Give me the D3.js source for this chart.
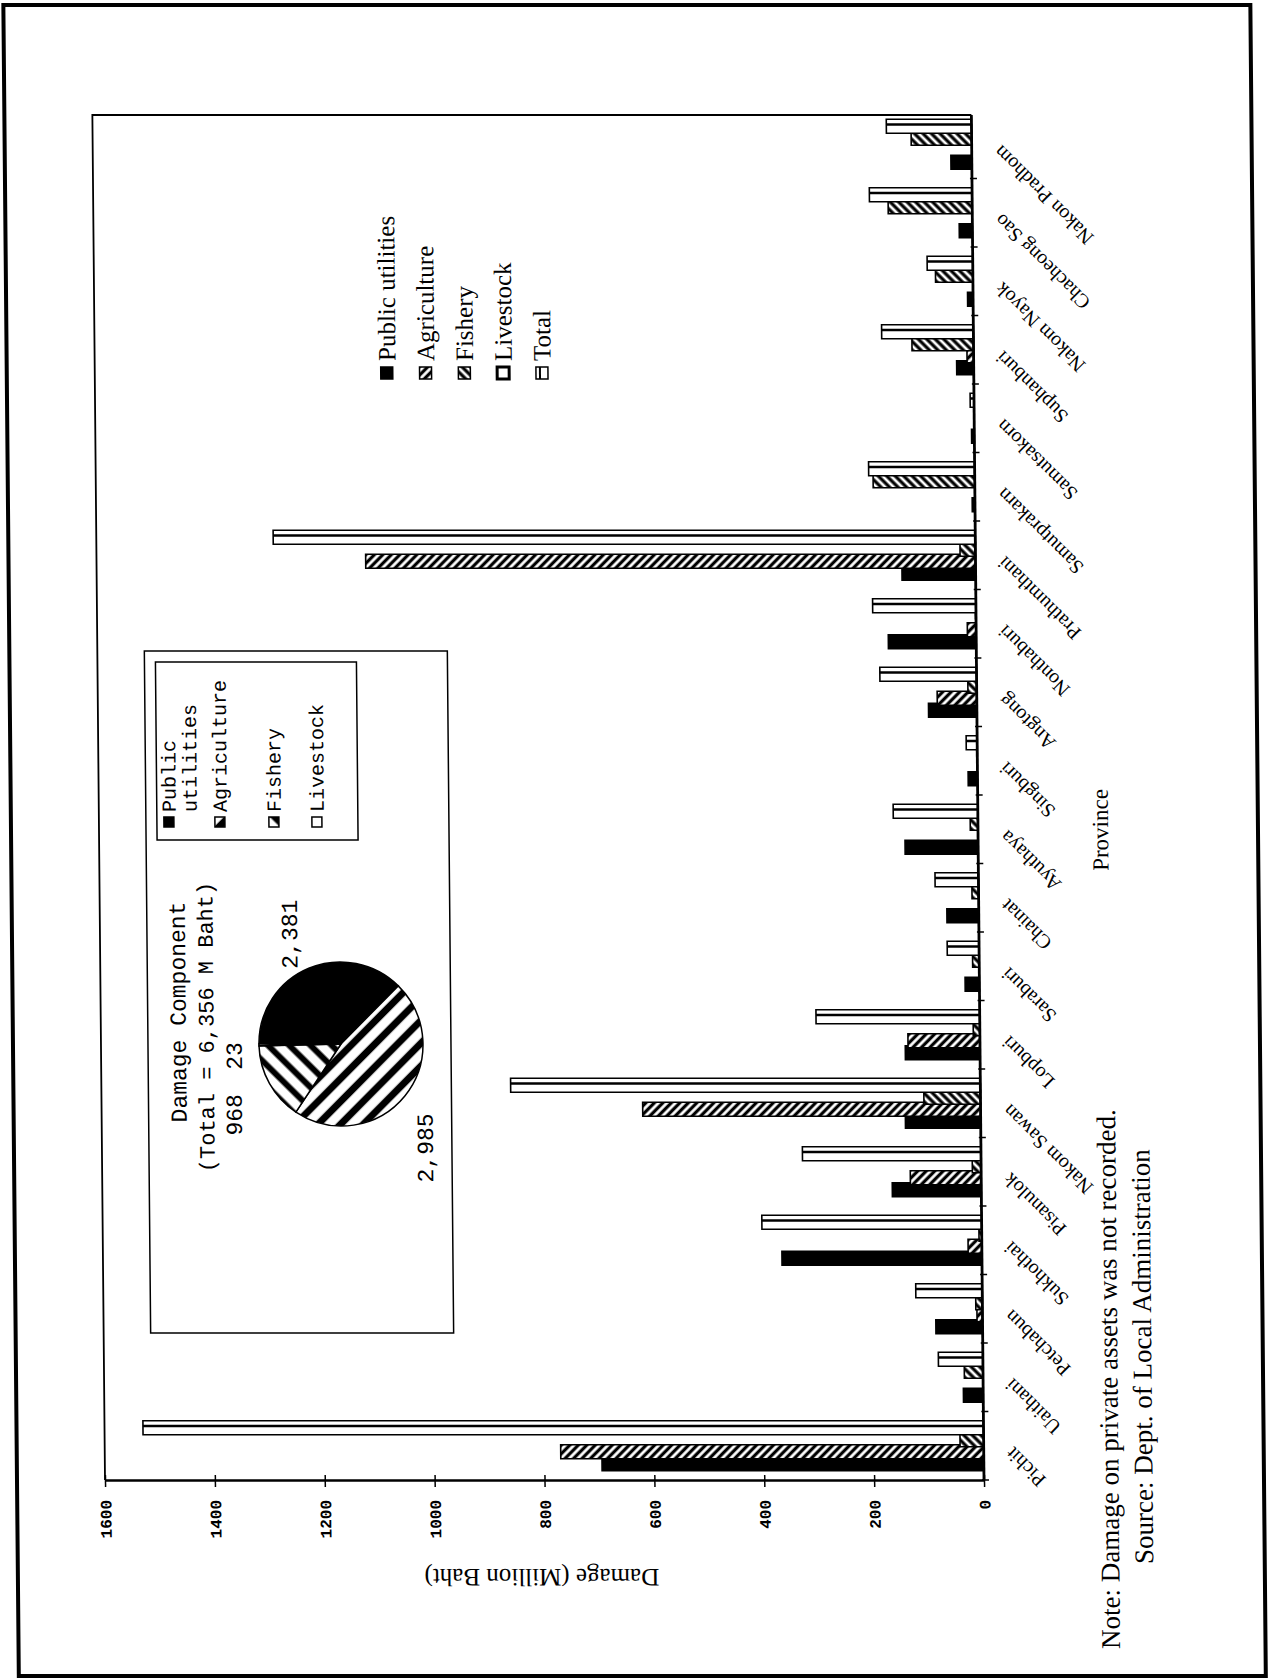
<!DOCTYPE html>
<html>
<head>
<meta charset="utf-8">
<title>Flood damage by province</title>
<script src="https://cdn.jsdelivr.net/npm/d3@7"></script>
<style>
  body { margin: 0; background: #fff; }
  svg { display: block; }
</style>
</head>
<body>
<div id="chart"></div>
<script>
// provinces in page order, top to bottom (the printed chart is turned on its side)
var provinces = ["Nakon Pradhom", "Chacheong Sao", "Nakom Nayok", "Suphanburi", "Samutsakorn",
  "Samutprakarn", "Prathumthani", "Nonthaburi", "Angtong", "Singburi", "Ayuthaya", "Chainat",
  "Saraburi", "Lopburi", "Nakom Sawan", "Pisanulok", "Sukhothai", "Petchabun", "Uaithani", "Pichit"];

// damage, million baht
var publicUtilities = [38, 24, 10, 31, 5, 5, 134, 160, 88, 17, 133, 58, 26, 136, 137, 162, 364, 85, 36, 695];
var agriculture     = [0, 0, 0, 12, 0, 0, 1110, 16, 72, 0, 0, 0, 0, 131, 615, 129, 25, 10, 0, 770];
var fishery         = [110, 153, 68, 112, 0, 185, 28, 0, 16, 0, 14, 12, 12, 12, 103, 16, 5, 12, 34, 43];
var livestock       = [1, 1, 1, 1, 0, 1, 2, 1, 1, 1, 2, 1, 1, 2, 3, 2, 1, 1, 1, 3];
var total           = [155, 187, 83, 167, 7, 193, 1278, 188, 176, 20, 154, 79, 58, 298, 855, 325, 400, 121, 81, 1530];

var valueTicks = [0, 200, 400, 600, 800, 1000, 1200, 1400, 1600];
var legendLabels = ["Public utilities", "Agriculture", "Fishery", "Livestock", "Total"];

// inset pie
var pieLabels = ["Public utilities", "Agriculture", "Fishery", "Livestock"];
var pieValues = [2381, 2985, 968, 23];

var W = 1268, H = 1679;
var serif = "'Liberation Serif','Times New Roman',serif";
var mono = "'Liberation Mono','Courier New',monospace";

var svg = d3.select("#chart").append("svg").attr("width", W).attr("height", H);
var defs = svg.append("defs");

function hatch(id, size, angle, sw) {
  var p = defs.append("pattern").attr("id", id)
    .attr("patternUnits", "userSpaceOnUse")
    .attr("width", size).attr("height", size)
    .attr("patternTransform", "rotate(" + angle + ")");
  p.append("rect").attr("width", size).attr("height", size).attr("fill", "#fff");
  p.append("line").attr("x1", size / 2).attr("x2", size / 2).attr("y1", 0).attr("y2", size)
    .attr("stroke", "#000").attr("stroke-width", sw);
}
hatch("agriBar", 6, 45, 3.2);
hatch("fishBar", 6, -45, 3.2);
hatch("agriPie", 16, 45, 7);
hatch("fishPie", 15, -45, 6);

// the scan is slightly sheared, so everything sits in one skewed group
var page = svg.append("g").attr("transform", "translate(0,1480) skewX(0.53) translate(0,-1480)");

page.append("rect").attr("x", 17).attr("y", 5).attr("width", 1247).attr("height", 1671)
  .attr("fill", "none").attr("stroke", "#000").attr("stroke-width", 4);

var plot = {left: 105, right: 984, top: 115, bottom: 1480};

var x = d3.scaleLinear().domain([0, 1600]).range([plot.right, plot.left]);
var y = d3.scaleBand().domain(provinces).range([110, plot.bottom]);
var step = 12, barH = 14;

function barY(p, slot) {
  return y(p) + y.bandwidth() / 2 + (1.5 - slot) * step;
}

// plot frame (top and left)
page.append("path")
  .attr("d", "M" + plot.right + "," + plot.top + "H" + plot.left + "V" + plot.bottom)
  .attr("fill", "none").attr("stroke", "#000").attr("stroke-width", 1.8);

var series = [
  {name: "Public utilities", values: publicUtilities, slot: 0, fill: "#000"},
  {name: "Agriculture", values: agriculture, slot: 1, fill: "url(#agriBar)"},
  {name: "Livestock", values: livestock, slot: 2.5, fill: "#fff"},
  {name: "Fishery", values: fishery, slot: 2, fill: "url(#fishBar)"},
  {name: "Total", values: total, slot: 3, fill: "#fff"}
];

series.forEach(function(s) {
  var rows = provinces.map(function(p, i) { return {p: p, v: s.values[i]}; })
    .filter(function(d) { return d.v > 0; });
  var g = page.append("g").attr("class", "bars");
  g.selectAll("rect").data(rows).enter().append("rect")
    .attr("x", function(d) { return x(d.v); })
    .attr("y", function(d) { return barY(d.p, s.slot) - barH / 2; })
    .attr("width", function(d) { return x(0) - x(d.v); })
    .attr("height", barH)
    .attr("fill", s.fill)
    .attr("stroke", "#000").attr("stroke-width", 1.6);
  if (s.name === "Total") {
    g.selectAll("line").data(rows).enter().append("line")
      .attr("x1", function(d) { return x(d.v); })
      .attr("x2", x(0))
      .attr("y1", function(d) { return barY(d.p, s.slot) - barH * 0.12; })
      .attr("y2", function(d) { return barY(d.p, s.slot) - barH * 0.12; })
      .attr("stroke", "#000").attr("stroke-width", 2.6);
  }
});

// value axis along the bottom
var xAxis = page.append("g").attr("transform", "translate(0," + plot.bottom + ")")
  .call(d3.axisBottom(x).tickValues(valueTicks).tickSize(7).tickSizeOuter(0).tickFormat(d3.format("d")));
xAxis.attr("font-family", mono).attr("font-size", 16).attr("font-weight", "bold");
xAxis.select(".domain").attr("stroke-width", 2.5);
xAxis.selectAll(".tick line").attr("y1", -5).attr("stroke-width", 1.5);
xAxis.selectAll(".tick text")
  .attr("x", 0).attr("y", 0).attr("dy", "0.35em")
  .attr("text-anchor", "end")
  .attr("transform", "translate(0,20) rotate(-90)");

// category axis on the right
var yAxis = page.append("g").attr("transform", "translate(" + plot.right + ",0)")
  .call(d3.axisRight(y).tickSize(0).tickSizeOuter(0));
yAxis.attr("font-family", serif).attr("font-size", 20);
yAxis.select(".domain").attr("d", "M0," + plot.top + "V" + plot.bottom).attr("stroke-width", 2.8);
yAxis.selectAll(".tick text")
  .attr("x", 0).attr("dy", 0)
  .attr("text-anchor", "end")
  .attr("transform", "translate(30,0) rotate(-135)");
yAxis.selectAll(".boundary")
  .data(provinces.slice(1).map(function(p) { return y(p); }).concat([plot.bottom]))
  .enter().append("line").attr("class", "boundary")
  .attr("x1", -2).attr("x2", 5)
  .attr("y1", function(d) { return d; }).attr("y2", function(d) { return d; })
  .attr("stroke", "#000").attr("stroke-width", 1.5);

// axis titles and notes
page.append("text").attr("transform", "translate(541,1578) rotate(180)")
  .attr("text-anchor", "middle").attr("dy", "0.35em")
  .attr("font-family", serif).attr("font-size", 25).text("Damage (Million Baht)");
page.append("text").attr("transform", "translate(1106,830) rotate(-90)")
  .attr("text-anchor", "middle").attr("dy", "0.35em")
  .attr("font-family", serif).attr("font-size", 23).text("Province");
page.append("text").attr("transform", "translate(1109,1649) rotate(-90)")
  .attr("text-anchor", "start").attr("dy", "0.35em")
  .attr("font-family", serif).attr("font-size", 27).text("Note: Damage on private assets was not recorded.");
page.append("text").attr("transform", "translate(1143,1564) rotate(-90)")
  .attr("text-anchor", "start").attr("dy", "0.35em")
  .attr("font-family", serif).attr("font-size", 27).text("Source: Dept. of Local Administration");

// main legend
var legendFill = ["#000", "url(#agriBar)", "url(#fishBar)", "#fff", "#fff"];
var legend = page.append("g").selectAll("g").data(legendLabels).enter().append("g")
  .attr("transform", function(d, i) { return "translate(" + (397 + i * 38.8) + ",0)"; });
legend.append("rect").attr("x", -6).attr("y", 367).attr("width", 12).attr("height", 12)
  .attr("fill", function(d, i) { return legendFill[i]; })
  .attr("stroke", "#000").attr("stroke-width", function(d, i) { return i === 3 ? 3 : 1.5; });
legend.filter(function(d, i) { return i === 4; }).append("line")
  .attr("x1", -2).attr("x2", -2).attr("y1", 367).attr("y2", 379)
  .attr("stroke", "#000").attr("stroke-width", 2);
legend.append("text").attr("transform", "translate(0,361) rotate(-90)")
  .attr("dy", "0.35em").attr("font-family", serif).attr("font-size", 25)
  .text(function(d) { return d; });

// inset: damage component pie
var inset = page.append("g");
inset.append("rect").attr("x", 152).attr("y", 651).attr("width", 303).attr("height", 682)
  .attr("fill", "#fff").attr("stroke", "#000").attr("stroke-width", 1.5);
inset.append("text").attr("transform", "translate(182,1012) rotate(-90)")
  .attr("text-anchor", "middle").attr("dy", "0.35em")
  .attr("font-family", mono).attr("font-size", 23).text("Damage Component");
inset.append("text").attr("transform", "translate(210,1027) rotate(-90)")
  .attr("text-anchor", "middle").attr("dy", "0.35em")
  .attr("font-family", mono).attr("font-size", 22).text("(Total = 6,356 M Baht)");

var pieFill = ["#000", "url(#agriPie)", "url(#fishPie)", "#fff"];
// label placement (radius and small angular nudge), as the spreadsheet laid them out
var labelRadius = [121, 133, 129, 108];
var labelNudge = [-0.04, 0.21, -0.08, -0.1];
var arcs = d3.pie().sort(null).startAngle(-Math.PI / 2).endAngle(1.5 * Math.PI)(pieValues);
var arc = d3.arc().innerRadius(0).outerRadius(82);
var pieG = inset.append("g").attr("transform", "translate(345,1044)");
pieG.selectAll("path").data(arcs).enter().append("path")
  .attr("d", arc)
  .attr("fill", function(d, i) { return pieFill[i]; })
  .attr("stroke", "#000").attr("stroke-width", 1.5);
pieG.selectAll("text").data(arcs).enter().append("text")
  .attr("transform", function(d, i) {
    var a = (d.startAngle + d.endAngle) / 2 + labelNudge[i];
    var r = labelRadius[i];
    return "translate(" + (r * Math.sin(a)) + "," + (-r * Math.cos(a)) + ") rotate(-90)";
  })
  .attr("text-anchor", "middle").attr("dy", "0.35em")
  .attr("font-family", mono).attr("font-size", 23)
  .text(function(d) { return d3.format(",")(d.value); });

// inset legend
inset.append("rect").attr("x", 163).attr("y", 662).attr("width", 201).attr("height", 178)
  .attr("fill", "#fff").attr("stroke", "#000").attr("stroke-width", 1.5);
var insetRows = [["Public", "utilities"], ["Agriculture"], ["Fishery"], ["Livestock"]];
var insetCols = [175, 226, 280, 323];
var insetLeg = inset.append("g").selectAll("g").data(insetRows).enter().append("g")
  .attr("transform", function(d, i) { return "translate(" + insetCols[i] + ",0)"; });
insetLeg.append("rect").attr("x", -5).attr("y", 817).attr("width", 10).attr("height", 10)
  .attr("fill", function(d, i) { return pieFill[i]; })
  .attr("stroke", "#000").attr("stroke-width", 1.5);
insetLeg.selectAll("text").data(function(d) { return d; }).enter().append("text")
  .attr("transform", function(d, j) { return "translate(" + (j * 21) + ",812) rotate(-90)"; })
  .attr("dy", "0.35em").attr("font-family", mono).attr("font-size", 20)
  .text(function(d) { return d; });
</script>
</body>
</html>
